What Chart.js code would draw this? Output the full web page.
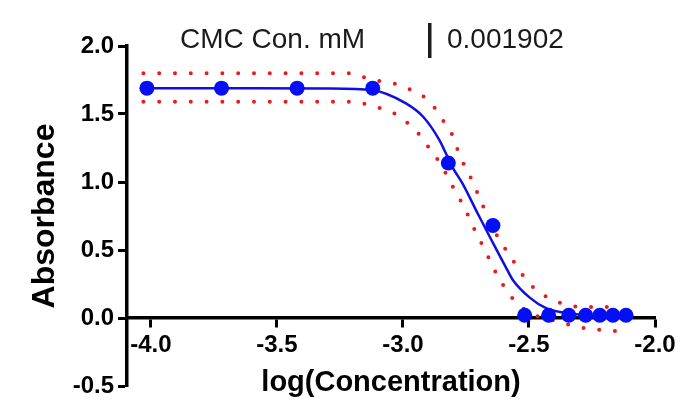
<!DOCTYPE html>
<html>
<head>
<meta charset="utf-8">
<script src="https://cdn.jsdelivr.net/npm/chart.js@4.4.1/dist/chart.umd.min.js"></script>
<style>
  html, body { margin: 0; padding: 0; background: #fff; }
</style>
</head>
<body>
<canvas id="myChart" width="683" height="407"></canvas>
<script>
// measured points
const pointX = [-4.016, -3.72, -3.42, -3.12, -2.82, -2.643, -2.517, -2.422, -2.342, -2.275, -2.219, -2.167, -2.115];
const pointY = [1.69, 1.69, 1.69, 1.69, 1.14, 0.68, 0.02, 0.02, 0.02, 0.02, 0.02, 0.02, 0.02];

// fitted curve
const fitX = [-4.016, -3.6, -3.3, -3.12, -2.99, -2.92, -2.856, -2.804, -2.764, -2.704, -2.648, -2.588, -2.564, -2.497, -2.43, -2.366, -2.3, -2.2, -2.115];
const fitY = [1.69, 1.69, 1.688, 1.675, 1.58, 1.48, 1.31, 1.11, 0.99, 0.77, 0.57, 0.36, 0.28, 0.15, 0.07, 0.04, 0.025, 0.015, 0.01];

// 95% band, upper and lower
const upperX = [-4.03, -3.21, -3.146, -3.087, -3.027, -2.971, -2.916, -2.872, -2.84, -2.808, -2.788, -2.764, -2.736, -2.712, -2.688, -2.665, -2.605, -2.573, -2.541, -2.502, -2.458, -2.406, -2.35, -2.291, -2.13];
const upperY = [1.80, 1.80, 1.765, 1.74, 1.72, 1.68, 1.625, 1.54, 1.45, 1.36, 1.26, 1.15, 1.05, 0.95, 0.85, 0.74, 0.54, 0.45, 0.36, 0.26, 0.19, 0.13, 0.10, 0.08, 0.08];
const lowerX = [-4.03, -3.21, -3.142, -3.087, -3.031, -2.979, -2.94, -2.9, -2.868, -2.832, -2.808, -2.776, -2.748, -2.724, -2.697, -2.669, -2.645, -2.617, -2.586, -2.546, -2.5, -2.44, -2.378, -2.318, -2.259, -2.195, -2.13];
const lowerY = [1.59, 1.59, 1.57, 1.54, 1.50, 1.43, 1.36, 1.26, 1.18, 1.07, 0.985, 0.88, 0.78, 0.68, 0.58, 0.48, 0.38, 0.29, 0.19, 0.11, 0.04, 0.0, -0.03, -0.06, -0.08, -0.09, -0.10];

const xTicks = [-4.0, -3.5, -3.0, -2.5, -2.0];
const yTicks = [-0.5, 0.0, 0.5, 1.0, 1.5, 2.0];
const headerLabel = 'CMC Con. mM';
const headerValue = '0.001902';

const toXY = (xs, ys) => xs.map((x, i) => ({ x: x, y: ys[i] }));

const fam = '"Liberation Sans", Arial, sans-serif';
const tickFont = { family: fam, size: 24, weight: 'bold' };

// little table on top of the plot
const header = {
    id: 'header',
    afterDraw(chart) {
        const ctx = chart.ctx;
        ctx.save();
        ctx.font = '28px ' + fam;
        ctx.fillStyle = '#1a1a1a';
        ctx.textBaseline = 'middle';
        ctx.textAlign = 'left';
        ctx.fillText(headerLabel, 180, 40);
        ctx.fillRect(428, 23, 3.5, 35);
        ctx.fillText(headerValue, 447, 40);
        ctx.restore();
    }
};

const dotted = {
    borderColor: 'rgb(235, 25, 25)',
    borderWidth: 4,
    borderDash: [0, 15.8],
    borderCapStyle: 'round',
    pointRadius: 0,
    showLine: true,
    fill: false,
    cubicInterpolationMode: 'monotone'
};

var ctx = document.getElementById('myChart').getContext('2d');
var chart = new Chart(ctx, {
    type: 'scatter',
    data: {
        datasets: [
            {
                label: 'data',
                data: toXY(pointX, pointY),
                backgroundColor: 'rgb(5, 15, 245)',
                borderWidth: 0,
                pointRadius: 7.5,
                showLine: false
            },
            {
                label: 'fit',
                data: toXY(fitX, fitY),
                borderColor: 'rgb(15, 15, 225)',
                borderWidth: 2.5,
                pointRadius: 0,
                showLine: true,
                cubicInterpolationMode: 'monotone'
            },
            Object.assign({ label: 'upper', data: toXY(upperX, upperY) }, dotted),
            Object.assign({ label: 'lower', data: toXY(lowerX, lowerY) }, dotted)
        ]
    },
    options: {
        responsive: false,
        animation: false,
        layout: { padding: { left: 0, top: 46, right: 28, bottom: 21 } },
        plugins: {
            legend: { display: false },
            tooltip: { enabled: false }
        },
        scales: {
            x: {
                type: 'linear',
                min: -4.095,
                max: -2.0,
                position: { y: 0 },
                afterBuildTicks: s => { s.ticks = xTicks.map(v => ({ value: v })); },
                afterFit: s => { s.height = 82; },
                border: { display: true, color: '#000', width: 3.5 },
                grid: { drawOnChartArea: false, drawTicks: true, tickLength: 8, tickWidth: 3, tickColor: '#000' },
                ticks: { color: '#000', font: tickFont, padding: 5, maxRotation: 0, callback: v => v.toFixed(1) },
                title: { display: true, text: 'log(Concentration)', color: '#000', font: { family: fam, size: 29, weight: 'bold' }, padding: 0 }
            },
            y: {
                type: 'linear',
                min: -0.5,
                max: 2.0,
                afterBuildTicks: s => { s.ticks = yTicks.map(v => ({ value: v })); },
                afterFit: s => { s.width = 127; },
                border: { display: true, color: '#000', width: 3.5 },
                grid: { drawOnChartArea: false, drawTicks: true, tickLength: 9, tickWidth: 3, tickColor: '#000' },
                ticks: { color: '#000', font: tickFont, padding: 4, callback: v => v.toFixed(1) },
                title: { display: true, text: 'Absorbance', color: '#000', font: { family: fam, size: 32, weight: 'bold' }, padding: { top: 26, bottom: 0 } }
            }
        }
    },
    plugins: [header]
});
</script>
</body>
</html>
